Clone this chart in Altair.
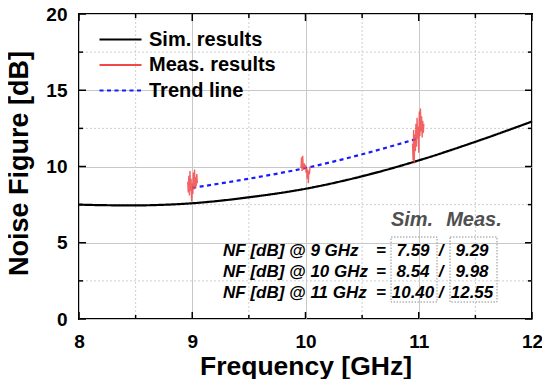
import altair as alt
import pandas as pd

# ---------------- data ----------------
series_names = ["Sim. results", "Meas. results", "Trend line"]
series_colors = ["#000000", "#f24848", "#1a1aff"]

sim_f = [8.0, 8.25, 8.5, 8.75, 9.0, 9.5, 10.0, 10.5, 11.0, 11.5, 12.0]
sim_nf = [7.50, 7.46, 7.45, 7.49, 7.59, 7.98, 8.54, 9.36, 10.40, 11.62, 12.95]

trend_f = [9.0, 9.5, 10.0, 10.5, 11.0]
trend_nf = [8.60, 9.20, 9.90, 10.80, 11.85]

meas9_f = [8.960, 8.965, 8.970, 8.975, 8.980, 8.985, 8.990, 8.995, 9.000,
           9.005, 9.010, 9.015, 9.020, 9.025, 9.030, 9.035, 9.040, 9.045]
meas9_nf = [9.0, 8.3, 9.4, 8.1, 9.7, 8.4, 9.2, 7.7, 8.9,
            8.2, 9.6, 8.5, 9.8, 8.6, 9.3, 8.7, 9.5, 8.9]
meas10_f = [9.960, 9.965, 9.970, 9.975, 9.980, 9.985, 9.990, 9.995, 10.000,
            10.005, 10.010, 10.015, 10.020, 10.025, 10.030, 10.035, 10.040]
meas10_nf = [9.9, 10.6, 9.7, 10.7, 10.0, 9.8, 10.2, 9.9, 10.1,
             9.6, 9.9, 9.2, 9.8, 8.9, 9.7, 9.5, 10.0]
meas11_f = [10.945, 10.950, 10.955, 10.960, 10.965, 10.970, 10.975, 10.980,
            10.985, 10.990, 10.995, 11.000, 11.005, 11.010, 11.015, 11.020,
            11.025, 11.030, 11.035, 11.040, 11.045]
meas11_nf = [11.5, 10.4, 12.4, 10.2, 12.1, 11.0, 12.8, 11.3, 13.2, 11.8, 12.6,
             10.9, 13.6, 12.0, 13.8, 12.3, 13.3, 11.9, 13.0, 12.2, 12.8]

x_ticks = [8, 9, 10, 11, 12]
x_minor = [8.5, 9.5, 10.5, 11.5]
y_ticks = [0, 5, 10, 15, 20]
y_minor = [2.5, 7.5, 12.5, 17.5]

table_freqs = [9, 10, 11]
table_sim = ["7.59", "8.54", "10.40"]
table_meas = ["9.29", "9.98", "12.55"]
table_left = ["NF [dB] @ 9 GHz", "NF [dB] @ 10 GHz", "NF [dB] @ 11 GHz"]

# ---------------- layout ----------------
W, H = 453, 305
FONT = "Liberation Sans"
DX = -2  # horizontal shift of view-relative annotation positions

xs = alt.Scale(domain=[8, 12], nice=False, zero=False)
ys = alt.Scale(domain=[0, 20], nice=False, zero=False)

x_axis = alt.Axis(values=x_ticks, grid=True, ticks=False, domain=False, labelFlush=False,
                  labelFontSize=19, labelFont=FONT, labelFontWeight="bold",
                  labelColor="black", labelPadding=13,
                  titleFont=FONT, titleFontSize=26.5, titleFontWeight="bold",
                  titleColor="black", titlePadding=2,
                  gridColor="#c8c8c8", gridWidth=1)
y_axis = alt.Axis(values=y_ticks, grid=True, ticks=False, domain=False, labelFlush=False,
                  labelFontSize=19, labelFont=FONT, labelFontWeight="bold",
                  labelColor="black", labelPadding=12,
                  titleFont=FONT, titleFontSize=27, titleFontWeight="bold",
                  titleColor="black", titleX=-73, titleY=149, titleBaseline="top",
                  gridColor="#c8c8c8", gridWidth=1)
X_TITLE = "Frequency [GHz]"
Y_TITLE = "Noise Figure [dB]"


def X(field="f:Q"):
    return alt.X(field, scale=xs, axis=x_axis, title=X_TITLE)


def Y(field="nf:Q"):
    return alt.Y(field, scale=ys, axis=y_axis, title=Y_TITLE)


rows = []
for f, v in zip(sim_f, sim_nf):
    rows.append(dict(series="Sim. results", grp="sim", f=f, nf=v))
for f, v in zip(trend_f, trend_nf):
    rows.append(dict(series="Trend line", grp="trend", f=f, nf=v))
smooth_df = pd.DataFrame(rows)

rows = []
for g, (fl, vl) in enumerate([(meas9_f, meas9_nf), (meas10_f, meas10_nf), (meas11_f, meas11_nf)]):
    for i, (f, v) in enumerate(zip(fl, vl)):
        rows.append(dict(series="Meas. results", grp=f"m{g}", i=i, f=f, nf=v))
meas_df = pd.DataFrame(rows)

color = alt.Color("series:N", scale=alt.Scale(domain=series_names, range=series_colors),
                  legend=alt.Legend(title=None))
dash = alt.StrokeDash("series:N", scale=alt.Scale(domain=series_names, range=[[1, 0], [1, 0], [4, 3.5]]),
                      legend=alt.Legend(title=None))

minor_x = alt.Chart(pd.DataFrame({"f": x_minor})).mark_rule(
    color="#cfcfcf", strokeDash=[2, 2], strokeWidth=1).encode(x=X())
minor_y = alt.Chart(pd.DataFrame({"nf": y_minor})).mark_rule(
    color="#cfcfcf", strokeDash=[2, 2], strokeWidth=1).encode(y=Y())


def xtick_layers(vals, length):
    d = pd.DataFrame({"f": vals})
    b = alt.Chart(d).mark_rule(color="black", strokeWidth=1.5).encode(
        x=X(), y=alt.value(H), y2=alt.value(H - length))
    t = alt.Chart(d).mark_rule(color="black", strokeWidth=1.5).encode(
        x=X(), y=alt.value(0), y2=alt.value(length))
    return [b, t]


def ytick_layers(vals, length):
    d = pd.DataFrame({"nf": vals})
    l = alt.Chart(d).mark_rule(color="black", strokeWidth=1.5).encode(
        y=Y(), x=alt.value(0), x2=alt.value(length))
    r = alt.Chart(d).mark_rule(color="black", strokeWidth=1.5).encode(
        y=Y(), x=alt.value(W), x2=alt.value(W - length))
    return [l, r]


ticks = (xtick_layers(x_ticks, 7) + xtick_layers(x_minor, 4)
         + ytick_layers(y_ticks, 7) + ytick_layers(y_minor, 4))

meas_line = alt.Chart(meas_df).mark_line(strokeWidth=1.4, strokeOpacity=0.85).encode(
    x=X(), y=Y(), color=color, strokeDash=dash, detail="grp:N", order="i:Q")

smooth_line = alt.Chart(smooth_df).mark_line(strokeWidth=2.2, interpolate="monotone").encode(
    x=X(), y=Y(), color=color, strokeDash=dash, detail="grp:N")

# ---------------- annotation table ----------------
ann = []
hdr_style = dict(font=FONT, fontSize=20, fontWeight="bold", fontStyle="italic",
                 color="#505050", baseline="middle", align="center")
hdr = pd.DataFrame({"t": ["Sim."]})
ann.append(alt.Chart(hdr).mark_text(**hdr_style).encode(
    text=alt.value("Sim."), x=alt.value(335 + DX), y=alt.value(206)))
ann.append(alt.Chart(hdr).mark_text(**hdr_style).encode(
    text=alt.value("Meas."), x=alt.value(397 + DX), y=alt.value(206)))

for k in range(3):
    yy = 237 + k * 21
    d = pd.DataFrame({"left": [table_left[k]], "sim": [table_sim[k]], "meas": [table_meas[k]],
                      "freq": [table_freqs[k]]})
    common = dict(font=FONT, fontSize=17, fontWeight="bold", fontStyle="italic",
                  color="black", baseline="middle")
    ann.append(alt.Chart(d).mark_text(align="left", **common).encode(
        text="left:N", x=alt.value(146 + DX), y=alt.value(yy)))
    ann.append(alt.Chart(d).mark_text(align="center", **common).encode(
        text=alt.value("="), x=alt.value(304 + DX), y=alt.value(yy)))
    ann.append(alt.Chart(d).mark_text(align="center", **common).encode(
        text="sim:N", x=alt.value(336 + DX), y=alt.value(yy)))
    ann.append(alt.Chart(d).mark_text(align="center", **common).encode(
        text=alt.value("/"), x=alt.value(364 + DX), y=alt.value(yy)))
    ann.append(alt.Chart(d).mark_text(align="center", **common).encode(
        text="meas:N", x=alt.value(395 + DX), y=alt.value(yy)))

box_df = pd.DataFrame({"col": ["Sim.", "Meas."]})
boxes = [
    alt.Chart(box_df.iloc[[0]]).mark_rect(fill=None, stroke="#909090", strokeDash=[1.5, 1.5],
                                          strokeWidth=1).encode(
        x=alt.value(314 + DX), x2=alt.value(360 + DX), y=alt.value(223), y2=alt.value(288)),
    alt.Chart(box_df.iloc[[1]]).mark_rect(fill=None, stroke="#909090", strokeDash=[1.5, 1.5],
                                          strokeWidth=1).encode(
        x=alt.value(373 + DX), x2=alt.value(420 + DX), y=alt.value(223), y2=alt.value(288)),
]

chart = alt.layer(
    minor_x, minor_y, *ticks, smooth_line, meas_line, *boxes, *ann
).properties(
    width=W, height=H,
    autosize=alt.AutoSizeParams(type="none"),
    padding={"left": 71, "top": 6, "right": 10, "bottom": 60},
).configure_view(
    stroke="black", strokeWidth=2
).configure_legend(
    orient="none", legendX=30, legendY=14,
    symbolType="M-2,0L2,0", symbolSize=441, symbolStrokeWidth=2,
    labelFont=FONT, labelFontSize=20, labelFontWeight="bold", labelColor="black",
    labelOffset=17, rowPadding=3.5, padding=0, labelLimit=300,
)

chart.save("out.html", embed_options={"renderer": "svg", "actions": False})
